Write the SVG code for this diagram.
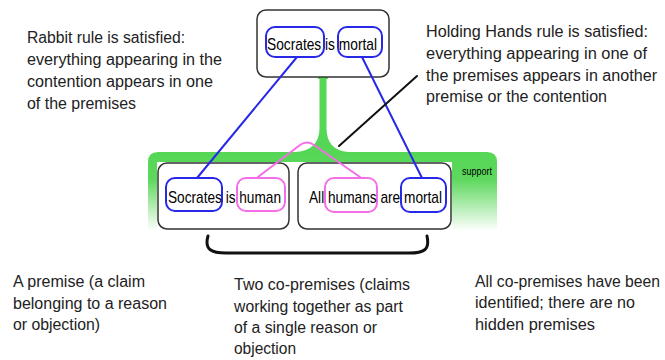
<svg xmlns="http://www.w3.org/2000/svg" width="665" height="360" viewBox="0 0 665 360">
<defs>
<linearGradient id="g" x1="0" y1="0" x2="0" y2="1">
<stop offset="0" stop-color="#55d655"/>
<stop offset="0.35" stop-color="#5ed85e"/>
<stop offset="1" stop-color="#ffffff"/>
</linearGradient>
<style>
.t{font-family:"Liberation Sans",Arial,sans-serif;font-size:16px;fill:#222}
.b{font-family:"Liberation Sans",Arial,sans-serif;font-size:17px;fill:#000}
.s{font-family:"Liberation Sans",Arial,sans-serif;font-size:10px;fill:#000}
.box{fill:#fff;stroke:#333;stroke-width:1.5}
.blue{fill:none;stroke:#2828e8;stroke-width:2}
.pink{fill:none;stroke:#f56ee8;stroke-width:2}
.ln{fill:none;stroke-linecap:round}
</style>
</defs>
<rect width="665" height="360" fill="#fff"/>

<g id="support">
<path d="M148,231 V162 Q148,152 158,152 H487 Q497,152 497,162 V231 Z" fill="url(#g)"/>
<rect x="157" y="162" width="295" height="70" fill="#fff"/>
<path d="M318,77 H328 V79 H326.5 V128 Q326.5,150 348,152 H296 Q319.5,150 319.5,128 V79 H318 Z" fill="#55d655"/>
<text class="s" x="462" y="175" textLength="30" lengthAdjust="spacingAndGlyphs">support</text>
</g>

<g id="contention">
<rect class="box" x="257" y="10" width="132" height="67" rx="9"/>
<rect class="blue" x="266" y="27" width="58" height="30" rx="9"/>
<rect class="blue" x="338" y="27" width="44" height="30" rx="9"/>
<text class="b" x="267" y="50" textLength="110" lengthAdjust="spacingAndGlyphs">Socrates is mortal</text>
</g>

<g id="premise1">
<rect class="box" x="158" y="163" width="131" height="66" rx="9"/>
<rect class="blue" x="166" y="178" width="56" height="33" rx="9"/>
<rect class="pink" x="237" y="178" width="48" height="33" rx="9"/>
<text class="b" x="168" y="203" textLength="113" lengthAdjust="spacingAndGlyphs">Socrates is human</text>
</g>

<g id="premise2">
<rect class="box" x="298" y="163" width="153" height="66" rx="9"/>
<rect class="pink" x="325" y="178" width="52" height="34" rx="9"/>
<rect class="blue" x="401" y="178" width="45" height="34" rx="9"/>
<text class="b" x="309" y="203" textLength="133" lengthAdjust="spacingAndGlyphs">All humans are mortal</text>
</g>

<g id="connectors">
<line class="ln" x1="297" y1="57" x2="197" y2="178" stroke="#2828e8" stroke-width="2"/>
<line class="ln" x1="362" y1="57" x2="422" y2="178" stroke="#2828e8" stroke-width="2"/>
<path class="ln" d="M258,177 L300,145 Q307,140 314,145 L360,177" stroke="#f56ee8" stroke-width="2"/>
<line class="ln" x1="339" y1="146" x2="417" y2="76" stroke="#111" stroke-width="2"/>
<path class="ln" d="M208,236 C204,250 212,253 226,253 L409,253 C424,253 430,250 427,236" stroke="#111" stroke-width="3"/>
</g>

<g id="rabbit-note">
<text class="t" x="27" y="43" textLength="158" lengthAdjust="spacingAndGlyphs">Rabbit rule is satisfied:</text>
<text class="t" x="27" y="65" textLength="195" lengthAdjust="spacingAndGlyphs">everything appearing in the</text>
<text class="t" x="27" y="87" textLength="186" lengthAdjust="spacingAndGlyphs">contention appears in one</text>
<text class="t" x="27" y="109" textLength="109" lengthAdjust="spacingAndGlyphs">of the premises</text>
</g>

<g id="holding-note">
<text class="t" x="426" y="37" textLength="222" lengthAdjust="spacingAndGlyphs">Holding Hands rule is satisfied:</text>
<text class="t" x="426" y="59" textLength="221" lengthAdjust="spacingAndGlyphs">everything appearing in one of</text>
<text class="t" x="426" y="81" textLength="231" lengthAdjust="spacingAndGlyphs">the premises appears in another</text>
<text class="t" x="426" y="102" textLength="181" lengthAdjust="spacingAndGlyphs">premise or the contention</text>
</g>

<g id="premise-note">
<text class="t" x="13" y="287" textLength="132" lengthAdjust="spacingAndGlyphs">A premise (a claim</text>
<text class="t" x="13" y="309" textLength="154" lengthAdjust="spacingAndGlyphs">belonging to a reason</text>
<text class="t" x="13" y="330" textLength="87" lengthAdjust="spacingAndGlyphs">or objection)</text>
</g>

<g id="copremises-note">
<text class="t" x="234" y="290" textLength="176" lengthAdjust="spacingAndGlyphs">Two co-premises (claims</text>
<text class="t" x="234" y="312" textLength="169" lengthAdjust="spacingAndGlyphs">working together as part</text>
<text class="t" x="234" y="333" textLength="143" lengthAdjust="spacingAndGlyphs">of a single reason or</text>
<text class="t" x="234" y="354" textLength="62" lengthAdjust="spacingAndGlyphs">objection</text>
</g>

<g id="hidden-note">
<text class="t" x="475" y="287" textLength="185" lengthAdjust="spacingAndGlyphs">All co-premises have been</text>
<text class="t" x="475" y="308" textLength="160" lengthAdjust="spacingAndGlyphs">identified; there are no</text>
<text class="t" x="475" y="330" textLength="120" lengthAdjust="spacingAndGlyphs">hidden premises</text>
</g>
</svg>
